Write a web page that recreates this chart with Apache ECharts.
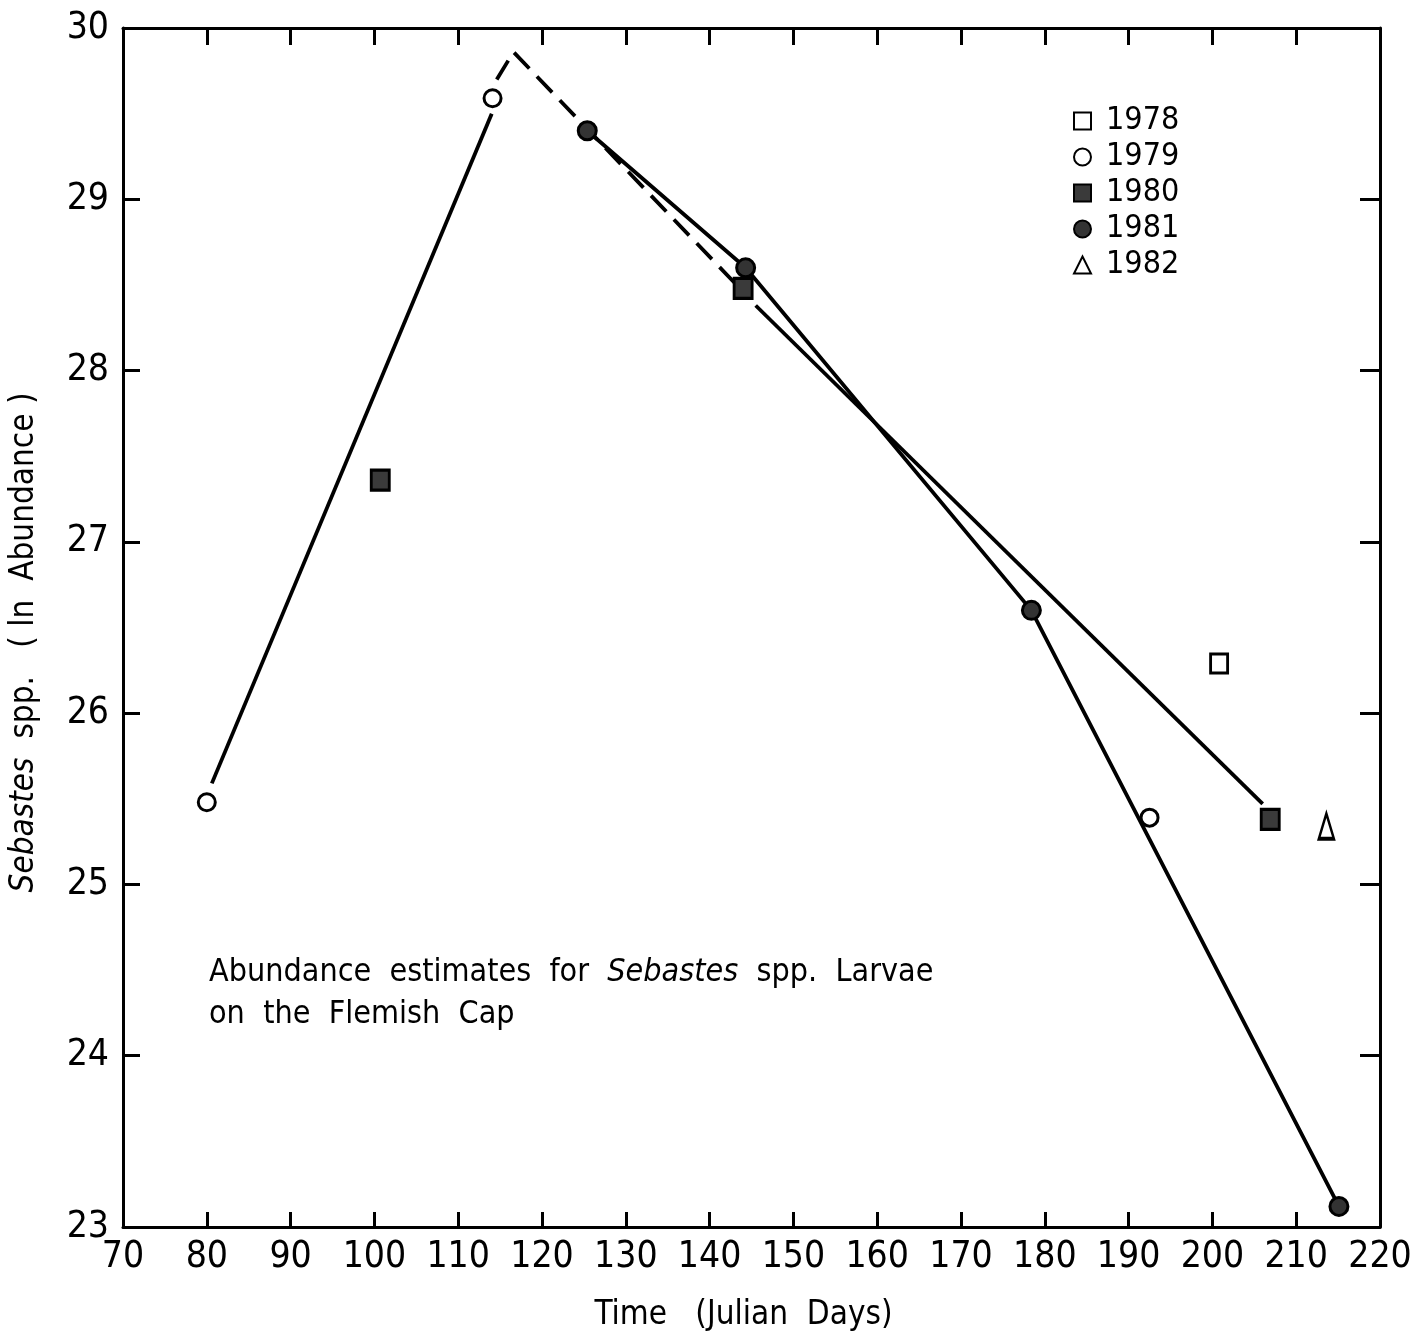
<!DOCTYPE html>
<html>
<head>
    <meta charset="UTF-8">
    <title>Sebastes spp. abundance</title>
    <style type="text/css">
        *{ margin: 0; padding: 0; }
        html, body { background: #fff; }
        #main{ width: 1421px; height: 1340px; }
    </style>
    <script src="https://cdn.jsdelivr.net/npm/echarts@6/dist/echarts.min.js"></script>
</head>
<body>
<div id="main"></div>
<script type="text/javascript">
    // data (x = Julian day, y = ln abundance)
    var days1978 = [200.8];
    var ln1978 = [26.29];
    var days1979 = [80, 114.1, 192.5];
    var ln1979 = [25.48, 29.59, 25.39];
    var days1980 = [100.7, 144.0, 206.9];
    var ln1980 = [27.36, 28.48, 25.38];
    var days1981 = [125.4, 144.3, 178.4, 215.1];
    var ln1981 = [29.40, 28.60, 26.60, 23.12];
    var days1982 = [213.6];
    var ln1982 = [25.34];

    // fitted lines
    var riseDays = [80.6, 114.0];
    var riseVals = [25.59, 29.50];
    var peakDays = [114.6, 116.6, 144.2];
    var peakVals = [29.70, 29.86, 28.45];
    var fall1980Days = [145.5, 206.0];
    var fall1980Vals = [28.38, 25.47];
    var fall1981Days = days1981;
    var fall1981Vals = ln1981;

    var xTicks = [70, 220, 10];
    var yTicks = [23, 30, 1];
    var years = ['1978', '1979', '1980', '1981', '1982'];

    var FONT = "'Liberation Sans Narrow', 'DejaVu Sans Condensed', sans-serif";

    function pairs(xs, ys) {
        return xs.map(function (x, i) { return [x, ys[i]]; });
    }

    var myChart = echarts.init(document.getElementById('main'), null, {renderer: 'canvas'});

    var axisLine = {lineStyle: {color: '#000', width: 3}};
    function xAx(pos, showLabel, tickLen) {
        return {
            type: 'value', position: pos, min: xTicks[0], max: xTicks[1], interval: xTicks[2],
            axisLine: axisLine,
            axisTick: {inside: true, length: tickLen, lineStyle: {color: '#000', width: 3}},
            axisLabel: {show: showLabel, color: '#000', fontSize: 37, fontFamily: FONT, margin: 12},
            splitLine: {show: false}
        };
    }
    function yAx(pos, showLabel, tickLen) {
        return {
            type: 'value', position: pos, min: yTicks[0], max: yTicks[1], interval: yTicks[2],
            axisLine: axisLine,
            axisTick: {inside: true, length: tickLen, lineStyle: {color: '#000', width: 3}},
            axisLabel: {show: showLabel, color: '#000', fontSize: 37, fontFamily: FONT, margin: 14},
            splitLine: {show: false}
        };
    }

    var xBottom = xAx('bottom', true, 15);
    xBottom.name = 'Time   (Julian  Days)';
    xBottom.nameLocation = 'middle';
    xBottom.nameGap = 72;
    xBottom.nameTextStyle = {color: '#000', fontSize: 33, fontFamily: FONT, padding: [0, 16, 0, 0]};

    var yLeft = yAx('left', true, 17);
    yLeft.name = '{it|Sebastes}  spp.   ( ln  Abundance )';
    yLeft.nameLocation = 'middle';
    yLeft.nameGap = 82;
    yLeft.nameTextStyle = {
        color: '#000', fontSize: 33, fontFamily: FONT, padding: [0, 30, 0, 0],
        rich: {it: {fontStyle: 'italic', fontSize: 33, fontFamily: FONT, color: '#000'}}
    };

    function lineSeries(xs, ys, dashed) {
        return {
            type: 'line', data: pairs(xs, ys), symbol: 'none', silent: true, z: 2,
            lineStyle: {color: '#000', width: 3.8, type: dashed ? [22, 11] : 'solid'}
        };
    }
    function pointSeries(name, xs, ys, symbol, size, fill) {
        return {
            name: name, type: 'scatter', data: pairs(xs, ys), symbol: symbol, symbolSize: size, z: 5,
            itemStyle: {color: fill, borderColor: '#000', borderWidth: 3, opacity: 1}
        };
    }

    option = {
        animation: false,
        backgroundColor: '#fff',
        title: {
            text: 'Abundance  estimates  for  {it|Sebastes}  spp.  Larvae\non  the  Flemish  Cap',
            left: 204, top: 947,
            textStyle: {
                color: '#000', fontSize: 32, fontWeight: 'normal', fontFamily: FONT, lineHeight: 42,
                rich: {it: {fontStyle: 'italic', fontSize: 32, fontFamily: FONT, color: '#000', lineHeight: 42}}
            }
        },
        legend: {
            data: years,
            orient: 'vertical',
            left: 1068, top: 100,
            itemWidth: 17, itemHeight: 17, itemGap: 4,
            textStyle: {color: '#000', fontSize: 32, fontFamily: FONT, lineHeight: 31, padding: [0, 0, 0, 10]}
        },
        grid: {left: 123, right: 41, top: 28, bottom: 113, containLabel: false},
        xAxis: [xBottom, xAx('top', false, 17)],
        yAxis: [yLeft, yAx('right', false, 20)],
        series: [
            lineSeries(riseDays, riseVals, false),
            lineSeries(peakDays, peakVals, true),
            lineSeries(fall1980Days, fall1980Vals, false),
            lineSeries(fall1981Days, fall1981Vals, false),
            pointSeries('1978', days1978, ln1978, 'rect', [17, 19], '#fff'),
            pointSeries('1979', days1979, ln1979, 'circle', 17, '#fff'),
            pointSeries('1980', days1980, ln1980, 'rect', [18, 20], '#3a3a3a'),
            pointSeries('1981', days1981, ln1981, 'circle', 18, '#333'),
            pointSeries('1982', days1982, ln1982, 'triangle', [15, 25], '#fff')
        ]
    };
    myChart.setOption(option);
</script>
</body>
</html>
